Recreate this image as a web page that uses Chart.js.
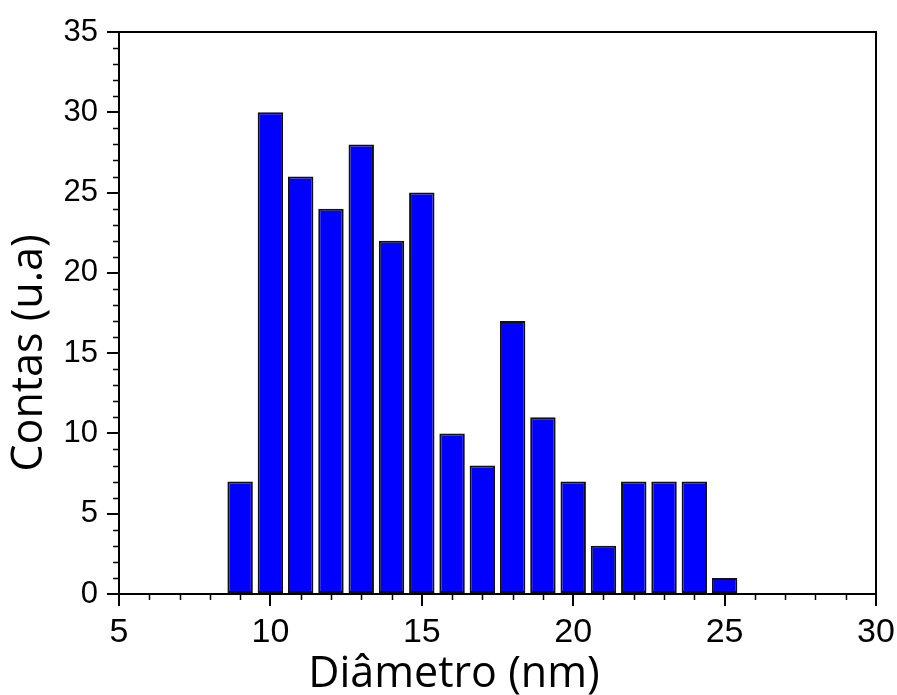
<!DOCTYPE html>
<html><head><meta charset="utf-8">
<script src="https://cdn.jsdelivr.net/npm/chart.js@4/dist/chart.umd.min.js"></script>
<style>html,body{margin:0;padding:0;background:#fff}#wrap{width:897px;height:695px;position:relative}</style>
</head><body><div id="wrap"><canvas id="c" width="897" height="695"></canvas></div>
<script>
const diameters = [9, 10, 11, 12, 13, 14, 15, 16, 17, 18, 19, 20, 21, 22, 23, 24, 25];
const counts = [7, 30, 26, 24, 28, 22, 25, 10, 8, 17, 11, 7, 3, 7, 7, 7, 1];
const xTickValues = [5, 10, 15, 20, 25, 30];
const yTickValues = [0, 5, 10, 15, 20, 25, 30, 35];
const xTitle = 'Diâmetro (nm)';
const yTitle = 'Contas (u.a)';

const extras = {
  id: 'extras',
  afterDraw(chart) {
    const { ctx, chartArea: a, scales: { x, y } } = chart;
    ctx.save();
    ctx.strokeStyle = '#000';
    ctx.lineWidth = 2;
    ctx.beginPath();
    ctx.moveTo(a.left - 1, a.top);
    ctx.lineTo(a.right, a.top);
    ctx.lineTo(a.right, a.bottom);
    ctx.stroke();
    // minor ticks
    ctx.lineWidth = 1.5;
    ctx.beginPath();
    for (let v = x.min; v <= x.max; v++) {
      if (xTickValues.includes(v)) continue;
      const px = Math.round(x.getPixelForValue(v)) + 0.5;
      ctx.moveTo(px, a.bottom);
      ctx.lineTo(px, a.bottom + 6);
    }
    for (let v = y.min; v <= y.max; v++) {
      if (yTickValues.includes(v)) continue;
      const py = Math.round(y.getPixelForValue(v)) + 0.5;
      ctx.moveTo(a.left, py);
      ctx.lineTo(a.left - 6, py);
    }
    ctx.stroke();
    // titles
    ctx.fillStyle = '#000';
    ctx.font = '43px "Open Sans"';
    ctx.textAlign = 'center';
    ctx.textBaseline = 'alphabetic';
    ctx.fillText(xTitle, 454, 687);
    ctx.translate(42, 353);
    ctx.rotate(-Math.PI / 2);
    ctx.fillText(yTitle, 0, 0);
    ctx.restore();
  }
};

new Chart(document.getElementById('c'), {
  type: 'bar',
  data: {
    datasets: [{
      data: diameters.map((d, i) => ({ x: d, y: counts[i] })),
      backgroundColor: '#0000ff',
      borderColor: '#111',
      borderWidth: 2,
      borderSkipped: false,
      barPercentage: 0.84,
      categoryPercentage: 1.0
    }]
  },
  options: {
    responsive: false,
    animation: false,
    devicePixelRatio: 1,
    layout: { padding: { left: 0, right: 21, top: 32, bottom: 0 } },
    plugins: { legend: { display: false }, tooltip: { enabled: false }, title: { display: false } },
    scales: {
      x: {
        type: 'linear',
        min: 5, max: 30,
        offset: false,
        afterBuildTicks: s => { s.ticks = xTickValues.map(v => ({ value: v })); },
        afterFit: s => { s.height = 101; s.paddingLeft = 0; s.paddingRight = 0; },
        ticks: { color: '#000', font: { family: 'Liberation Sans', size: 34 }, padding: 6, maxRotation: 0 },
        grid: { offset: false, drawOnChartArea: false, drawTicks: true, tickLength: 12, color: '#000', lineWidth: 2 },
        border: { display: true, color: '#000', width: 2 }
      },
      y: {
        min: 0, max: 35,
        afterBuildTicks: s => { s.ticks = yTickValues.map(v => ({ value: v })); },
        afterFit: s => { s.width = 119; s.paddingTop = 0; s.paddingBottom = 0; },
        ticks: { color: '#000', font: { family: 'Liberation Sans', size: 31 }, padding: 9 },
        grid: { drawOnChartArea: false, drawTicks: true, tickLength: 12, color: '#000', lineWidth: 2 },
        border: { display: true, color: '#000', width: 2 }
      }
    }
  },
  plugins: [extras]
});
</script>
</body></html>
